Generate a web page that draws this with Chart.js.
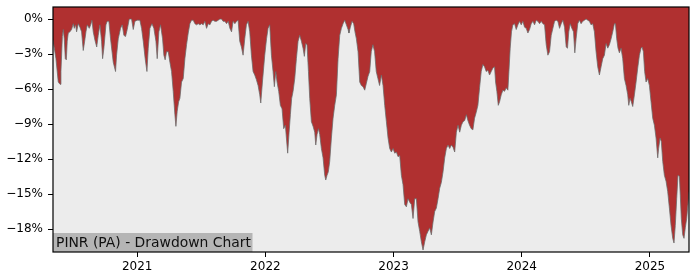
<!DOCTYPE html>
<html>
<head>
<meta charset="utf-8">
<script src="https://cdn.jsdelivr.net/npm/chart.js@4.4.1/dist/chart.umd.min.js"></script>
<style>
  html, body { margin: 0; padding: 0; background: #ffffff; }
  #chart { display: block; }
</style>
</head>
<body>
<canvas id="chart" width="700" height="280"></canvas>
<script>
// Time positions in decimal years
const dates = [
  2020.343, 2020.366, 2020.384, 2020.398, 2020.405, 2020.416, 2020.423, 2020.431, 2020.439, 2020.447,
  2020.454, 2020.462, 2020.475, 2020.488, 2020.501, 2020.509, 2020.520, 2020.527, 2020.540, 2020.553,
  2020.566, 2020.579, 2020.590, 2020.600, 2020.610, 2020.626, 2020.637, 2020.647, 2020.657, 2020.670,
  2020.684, 2020.696, 2020.709, 2020.722, 2020.730, 2020.740, 2020.756, 2020.766, 2020.779, 2020.792,
  2020.813, 2020.831, 2020.839, 2020.852, 2020.870, 2020.883, 2020.896, 2020.909, 2020.922, 2020.938,
  2020.956, 2020.969, 2020.982, 2021.000, 2021.021, 2021.034, 2021.047, 2021.062, 2021.076, 2021.086,
  2021.099, 2021.115, 2021.130, 2021.146, 2021.156, 2021.169, 2021.182, 2021.198,
  2021.208, 2021.218, 2021.229, 2021.242, 2021.255, 2021.268, 2021.281, 2021.294, 2021.302, 2021.312,
  2021.323, 2021.333, 2021.346, 2021.359, 2021.372, 2021.385, 2021.398, 2021.411, 2021.424, 2021.437,
  2021.450, 2021.463, 2021.476, 2021.489, 2021.502, 2021.515, 2021.528, 2021.541, 2021.554, 2021.567,
  2021.580, 2021.592, 2021.606, 2021.619, 2021.632, 2021.645, 2021.658, 2021.670, 2021.684, 2021.697,
  2021.710, 2021.723, 2021.736, 2021.748, 2021.762, 2021.775, 2021.787, 2021.800, 2021.813, 2021.826,
  2021.839, 2021.852, 2021.865, 2021.878, 2021.891, 2021.904, 2021.917, 2021.930, 2021.943, 2021.956,
  2021.964, 2021.977, 2021.995, 2022.009, 2022.021, 2022.034,
  2022.047, 2022.060, 2022.070, 2022.081, 2022.091, 2022.104, 2022.117, 2022.130, 2022.143, 2022.156,
  2022.164, 2022.174, 2022.185, 2022.195, 2022.205, 2022.216, 2022.229, 2022.242, 2022.255, 2022.268,
  2022.281, 2022.294, 2022.304, 2022.315, 2022.325, 2022.336, 2022.346, 2022.359, 2022.372, 2022.385,
  2022.393, 2022.403, 2022.414, 2022.424, 2022.437, 2022.450, 2022.463, 2022.471, 2022.481, 2022.491,
  2022.502, 2022.515, 2022.528, 2022.541, 2022.554, 2022.567, 2022.580, 2022.593, 2022.606, 2022.619,
  2022.632, 2022.645, 2022.652, 2022.663, 2022.676, 2022.689, 2022.699, 2022.710, 2022.723, 2022.736,
  2022.749, 2022.762, 2022.775, 2022.788, 2022.801, 2022.814, 2022.826, 2022.839, 2022.852, 2022.865,
  2022.878, 2022.891,
  2022.905, 2022.918, 2022.931, 2022.944, 2022.957, 2022.970, 2022.983, 2022.996, 2023.009, 2023.022,
  2023.035, 2023.048, 2023.061, 2023.074, 2023.087, 2023.100, 2023.113, 2023.126, 2023.139, 2023.152,
  2023.165, 2023.178, 2023.191, 2023.204, 2023.217, 2023.230, 2023.243, 2023.256, 2023.269, 2023.282,
  2023.295, 2023.308, 2023.321, 2023.334, 2023.347, 2023.360, 2023.373, 2023.386, 2023.399, 2023.412,
  2023.425, 2023.438, 2023.451, 2023.464, 2023.477, 2023.490, 2023.503, 2023.516, 2023.529, 2023.542,
  2023.555, 2023.568, 2023.580, 2023.593, 2023.606, 2023.619, 2023.632, 2023.645, 2023.658, 2023.671,
  2023.684, 2023.697, 2023.710, 2023.723, 2023.736, 2023.749, 2023.762, 2023.775, 2023.788,
  2023.796, 2023.806, 2023.817, 2023.827, 2023.840, 2023.853, 2023.866, 2023.879, 2023.892, 2023.900,
  2023.910, 2023.920, 2023.931, 2023.944, 2023.957, 2023.970, 2023.983, 2023.996, 2024.009, 2024.022,
  2024.035, 2024.048, 2024.061, 2024.074, 2024.087, 2024.100, 2024.113, 2024.126, 2024.139, 2024.152,
  2024.165, 2024.178, 2024.191, 2024.204, 2024.217, 2024.230, 2024.243, 2024.256, 2024.269, 2024.282,
  2024.295, 2024.308, 2024.321, 2024.334, 2024.347, 2024.357, 2024.367, 2024.378, 2024.391, 2024.404,
  2024.414, 2024.424, 2024.437, 2024.450, 2024.463, 2024.476, 2024.489, 2024.502, 2024.515, 2024.528,
  2024.541, 2024.554, 2024.567, 2024.580, 2024.593, 2024.606, 2024.619, 2024.632, 2024.645,
  2024.658, 2024.671, 2024.684, 2024.697, 2024.710, 2024.723, 2024.731, 2024.741, 2024.751, 2024.762,
  2024.775, 2024.788, 2024.801, 2024.814, 2024.827, 2024.835, 2024.845, 2024.855, 2024.866, 2024.879,
  2024.892, 2024.905, 2024.918, 2024.931, 2024.939, 2024.949, 2024.959, 2024.970, 2024.983, 2024.996,
  2025.009, 2025.022, 2025.035, 2025.048, 2025.061, 2025.068, 2025.079, 2025.089, 2025.100, 2025.113,
  2025.126, 2025.139, 2025.152, 2025.165, 2025.178, 2025.188, 2025.198, 2025.209, 2025.219, 2025.230,
  2025.237, 2025.245, 2025.256, 2025.266, 2025.276, 2025.287, 2025.297, 2025.305
];

// Drawdown in percent, same order as dates
const drawdown = [
  -1.8, -3.4, -5.4, -5.6, -4.5, -1.5, -0.9, -1.7, -3.4, -3.5,
  -1.9, -1.2, -1.1, -0.9, -0.4, -0.8, -0.5, -1.1, -0.4, -0.7,
  -1.1, -2.7, -1.9, -1.1, -0.5, -0.8, -0.5, -0.1, -1.1, -1.8,
  -2.4, -1.4, -0.5, -1.9, -3.4, -2.5, -0.5, -0.2, -0.2, -1.7,
  -3.7, -4.5, -3.1, -1.7, -0.8, -0.5, -1.4, -1.5, -0.9, 0,
  0, -0.9, -0.2, -0.1, -0.1, -0.8, -1.9, -3.4, -4.5, -2.5,
  -0.8, -0.4, -0.8, -1.9, -3.4, -1.1, -0.5, -1.7,
  -3.1, -3.5, -2.8, -2.8, -3.7, -4.5, -6.2, -8.2, -9.2, -7.9,
  -7.1, -6.8, -5.4, -5.1, -3.4, -2.2, -1.2, -0.4, -0.1, -0.1,
  -0.4, -0.5, -0.4, -0.5, -0.4, -0.5, -0.2, -0.8, -0.4, -0.5,
  -0.2, -0.1, -0.2, -0.2, -0.1, 0, 0, -0.2, -0.2, -0.4,
  -0.2, -0.8, -1.1, -0.2, -0.4, -0.2, -0.1, -1.9, -2.4, -3.1,
  -1.7, -0.5, -0.2, -1.1, -3.1, -4.5, -4.8, -5.2, -5.7, -6.5,
  -7.2, -5.4, -3.1, -1.7, -0.8, -0.5,
  -3.1, -4.5, -5.8, -4.5, -5.4, -6.2, -7.4, -7.7, -9.4, -9.1,
  -10.2, -11.5, -9.7, -8.2, -6.8, -6.2, -5.1, -3.4, -1.9, -1.4,
  -1.9, -2.5, -3.2, -2.1, -2.2, -4.5, -6.8, -8.8, -9.2, -9.7,
  -10.8, -9.9, -9.4, -9.9, -11.1, -11.9, -13.4, -13.8, -13.4, -13.1,
  -12.2, -10.2, -8.5, -7.4, -6.5, -3.4, -1.4, -0.8, -0.4, -0.1,
  -0.5, -0.9, -1.2, -0.7, -0.2, -0.4, -1.1, -1.7, -2.8, -5.4,
  -5.7, -5.8, -6.1, -5.5, -4.9, -4.5, -2.8, -2.2, -2.8, -4.5,
  -5.1, -5.7,
  -4.8, -5.7, -7.4, -8.8, -10.2, -11.1, -11.4, -11.1, -11.5, -11.4,
  -11.8, -11.7, -13.4, -14.2, -15.9, -16.1, -15.4, -15.7, -15.9, -17.1,
  -15.4, -15.4, -17.4, -18.2, -19.1, -19.8, -19.1, -18.5, -18.2, -17.9,
  -18.5, -17.4, -16.5, -16.2, -15.4, -14.5, -14.0, -13.1, -11.9, -11.1,
  -10.8, -11.1, -10.8, -11.0, -11.4, -9.7, -9.1, -9.7, -9.1, -8.8,
  -8.7, -8.2, -8.7, -9.1, -9.4, -9.5, -8.5, -8.0, -7.4, -5.9,
  -4.5, -3.9, -4.1, -4.5, -4.4, -4.8, -4.5, -4.2, -4.1,
  -5.4, -6.2, -7.4, -7.1, -6.5, -6.1, -6.2, -5.9, -6.1, -4.5,
  -2.5, -1.1, -0.5, -0.4, -0.9, -0.5, -0.2, -0.5, -0.2, -0.7,
  -0.8, -1.2, -0.9, -0.4, -0.2, -0.5, -0.1, -0.2, -0.4, -0.2,
  -0.4, -0.5, -2.2, -3.1, -2.8, -1.4, -0.8, -0.2, -0.1, -0.2,
  -0.8, -0.4, -0.1, -0.7, -2.4, -2.5, -1.1, -0.4, -0.8, -1.1,
  -2.9, -1.7, -0.4, -0.1, -0.4, -0.2, -0.1, 0, -0.1, -0.2,
  -0.5, -0.4, -1.1, -2.8, -4.1, -4.8, -4.1, -3.4, -3.1,
  -2.1, -2.5, -2.2, -1.7, -1.1, -0.4, -0.4, -1.7, -2.5, -2.9,
  -2.5, -3.4, -5.1, -5.7, -6.5, -7.4, -6.8, -7.1, -7.5, -6.5,
  -5.4, -4.2, -3.1, -2.5, -2.4, -2.8, -4.5, -5.4, -5.1, -5.7,
  -7.1, -8.5, -9.1, -10.2, -11.9, -11.1, -10.2, -10.5, -12.2, -13.4,
  -13.9, -14.8, -16.2, -17.7, -18.8, -19.2, -17.7, -15.4, -13.4, -13.5,
  -15.1, -17.1, -18.5, -18.8, -17.9, -17.1, -15.9, -14.8
];

const yearTicks = [2021, 2022, 2023, 2024, 2025];
const pctTicks = [0, -3, -6, -9, -12, -15, -18];

const chartTitle = 'PINR (PA) - Drawdown Chart';

const colors = {
    fill: '#b03030',
    edge: 'rgba(105, 105, 105, 0.75)',
    plotBg: '#ececec',
    labelBg: '#b5b5b5',
    text: '#000000',
};

Chart.defaults.font.family = '"DejaVu Sans", sans-serif';
Chart.defaults.font.size = 12;
Chart.defaults.color = colors.text;

// plot background, caption box and the black frame
const framePlugin = {
    id: 'frame',
    beforeDatasetsDraw(chart) {
        const { ctx, chartArea: a } = chart;
        ctx.save();
        ctx.fillStyle = colors.plotBg;
        ctx.fillRect(a.left, a.top, a.right - a.left, a.bottom - a.top);
        ctx.restore();
    },
    afterDraw(chart) {
        const { ctx, chartArea: a } = chart;
        ctx.save();
        // caption in lower left corner
        ctx.fillStyle = colors.labelBg;
        ctx.fillRect(a.left, a.bottom - 19, 199.5, 19);
        ctx.fillStyle = '#111111';
        ctx.font = '13.9px "DejaVu Sans", sans-serif';
        ctx.textBaseline = 'alphabetic';
        ctx.textAlign = 'left';
        ctx.fillText(chartTitle, a.left + 3, a.bottom - 4.7);
        // spines
        ctx.strokeStyle = '#000000';
        ctx.lineWidth = 1.2;
        ctx.strokeRect(a.left, a.top, a.right - a.left, a.bottom - a.top);
        ctx.restore();
    },
};

// keep the plot box where it is in the picture
const noScalePadding = (scale) => {
    scale.paddingTop = 0;
    scale.paddingBottom = 0;
    scale.paddingLeft = 0;
    scale.paddingRight = 0;
};

const ctx = document.getElementById('chart').getContext('2d');

new Chart(ctx, {
    type: 'line',
    data: {
        datasets: [{
            data: dates.map((d, i) => ({ x: d, y: drawdown[i] })),
            fill: 'end',
            backgroundColor: colors.fill,
            borderColor: colors.edge,
            borderWidth: 1,
            pointRadius: 0,
            tension: 0,
        }],
    },
    options: {
        responsive: false,
        animation: false,
        devicePixelRatio: 1,
        layout: {
            padding: { left: 0, right: 11, top: 7, bottom: 0 },
        },
        plugins: {
            legend: { display: false },
            tooltip: { enabled: false },
        },
        scales: {
            x: {
                type: 'linear',
                min: 2020.343,
                max: 2025.305,
                afterBuildTicks: (scale) => {
                    scale.ticks = yearTicks.map(v => ({ value: v }));
                },
                afterFit: (scale) => {
                    scale.height = 28;
                    noScalePadding(scale);
                },
                ticks: {
                    padding: 3,
                    maxRotation: 0,
                    callback: (v) => String(v),
                },
                grid: {
                    drawOnChartArea: false,
                    drawTicks: true,
                    tickLength: 5,
                    color: '#000000',
                },
                border: { display: false },
            },
            y: {
                type: 'linear',
                min: -19.97,
                max: 1.03,
                afterBuildTicks: (scale) => {
                    scale.ticks = pctTicks.map(v => ({ value: v }));
                },
                afterFit: (scale) => {
                    scale.width = 53;
                    noScalePadding(scale);
                },
                ticks: {
                    padding: 5,
                    callback: (v) => (v === 0 ? '0%' : '\u2212' + Math.abs(v) + '%'),
                },
                grid: {
                    drawOnChartArea: false,
                    drawTicks: true,
                    tickLength: 5,
                    color: '#000000',
                },
                border: { display: false },
            },
        },
    },
    plugins: [framePlugin],
});
</script>
</body>
</html>
